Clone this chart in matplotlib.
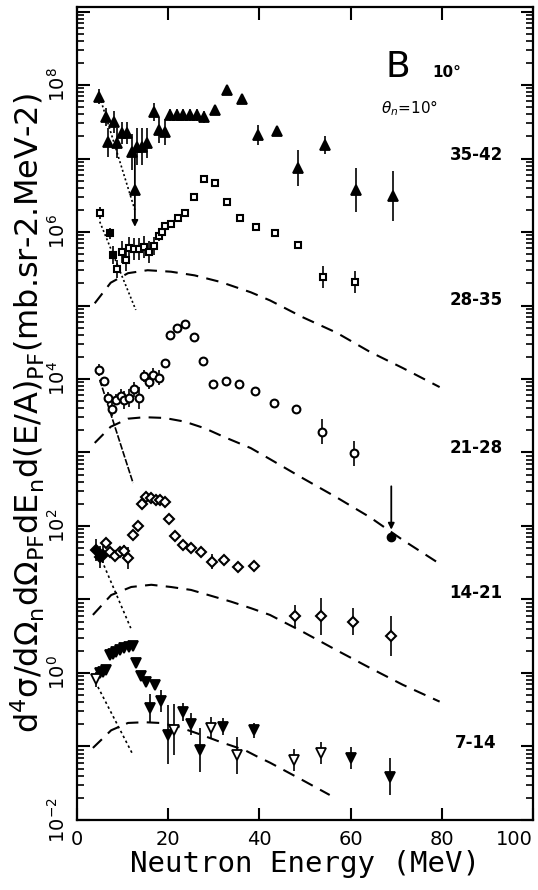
import numpy as np
import matplotlib
matplotlib.use("Agg")
import matplotlib.pyplot as plt
from matplotlib.ticker import FixedLocator, FuncFormatter, LogLocator, NullFormatter

plt.rcParams['font.family'] = ['DejaVu Sans']
plt.rcParams['mathtext.fontset'] = 'dejavusans'

# ---------------- data (energies in MeV, values as log10 of cross section) ----------------
# 35-42 bin (filled up-triangles)
e_3542 = [4.9, 6.35, 6.8, 8.1, 8.8, 9.85, 10.9, 12.0, 12.7, 13.1, 14.2, 15.3, 16.9, 18.0, 19.3,
          20.4, 21.9, 23.2, 24.7, 26.3, 27.8, 30.2, 32.8, 36.1, 39.6, 43.8, 48.4, 54.3, 61.1, 69.2]
v_3542 = [7.84, 7.565, 7.22, 7.50, 7.21, 7.35, 7.35, 7.09, 6.57, 7.16, 7.16, 7.21, 7.63, 7.39, 7.36,
          7.59, 7.59, 7.59, 7.59, 7.59, 7.565, 7.66, 7.93, 7.81, 7.32, 7.37, 6.87, 7.18, 6.57, 6.49]
s_3542 = [0.10, 0.12, 0.20, 0.15, 0.20, 0.15, 0.15, 0.25, 0.0, 0.25, 0.25, 0.20, 0.12, 0.18, 0.18,
          0.08, 0.08, 0.08, 0.08, 0.08, 0.08, 0.0, 0.0, 0.0, 0.14, 0.0, 0.25, 0.12, 0.30, 0.34]

# 28-35 bin (open squares)
e_2835 = [4.97, 7.16, 7.88, 8.82, 9.92, 10.8, 11.5, 12.6, 13.7, 14.8, 15.8, 17.0, 17.9, 18.6, 19.3,
          20.6, 22.1, 23.7, 25.6, 27.8, 30.2, 32.8, 35.8, 39.3, 43.5, 48.5, 53.9, 60.9]
v_2835 = [6.255, 5.98, 5.69, 5.50, 5.73, 5.62, 5.78, 5.77, 5.77, 5.80, 5.73, 5.81, 5.94, 6.00, 6.08,
          6.11, 6.19, 6.26, 6.48, 6.72, 6.67, 6.41, 6.195, 6.07, 5.98, 5.82, 5.39, 5.32]
s_2835 = [0.08, 0.08, 0.12, 0.12, 0.15, 0.15, 0.15, 0.15, 0.15, 0.15, 0.15, 0.12, 0.06, 0.05, 0.05,
          0.0, 0.0, 0.0, 0.0, 0.0, 0.0, 0.0, 0.0, 0.0, 0.0, 0.0, 0.15, 0.15]

# 21-28 bin (open circles)
e_2128 = [4.75, 5.85, 6.79, 7.66, 8.47, 9.57, 10.4, 11.5, 12.6, 13.6, 14.6, 15.7, 16.6, 17.9, 19.2,
          20.5, 21.9, 23.7, 25.6, 27.6, 29.9, 32.6, 35.6, 39.1, 43.1, 48.1, 53.7, 60.7]
v_2128 = [4.12, 3.97, 3.74, 3.59, 3.72, 3.77, 3.71, 3.74, 3.86, 3.74, 4.04, 3.96, 4.05, 4.02, 4.22,
          4.60, 4.69, 4.75, 4.57, 4.25, 3.93, 3.97, 3.93, 3.84, 3.67, 3.59, 3.28, 2.99]
s_2128 = [0.08, 0.05, 0.08, 0.10, 0.08, 0.10, 0.12, 0.12, 0.10, 0.15, 0.08, 0.10, 0.10, 0.10, 0.0,
          0.0, 0.0, 0.0, 0.0, 0.0, 0.0, 0.0, 0.0, 0.0, 0.0, 0.0, 0.17, 0.17]
e_2128_lim = [68.9]
v_2128_lim = [1.85]

# 14-21 bin (open diamonds, first three filled)
e_1421 = [4.23, 4.97, 5.69, 6.42, 7.29, 8.26, 9.35, 10.3, 11.2, 12.3, 13.4, 14.2, 15.2, 16.3, 17.4,
          18.3, 19.2, 20.1, 21.5, 23.2, 25.0, 27.1, 29.6, 32.2, 35.4, 38.9, 47.7, 53.6, 60.5, 68.9]
v_1421 = [1.67, 1.58, 1.61, 1.77, 1.65, 1.59, 1.65, 1.66, 1.56, 1.88, 2.00, 2.295, 2.39, 2.38, 2.36,
          2.35, 2.33, 2.09, 1.86, 1.74, 1.70, 1.64, 1.515, 1.54, 1.44, 1.46, 0.78, 0.77, 0.70, 0.50]
s_1421 = [0.15, 0.15, 0.12, 0.05, 0.05, 0.05, 0.05, 0.08, 0.15, 0.0, 0.0, 0.0, 0.0, 0.0, 0.0,
          0.0, 0.0, 0.0, 0.0, 0.0, 0.0, 0.0, 0.10, 0.0, 0.0, 0.0, 0.15, 0.25, 0.18, 0.27]
f_1421 = [1, 1, 1, 0, 0, 0, 0, 0, 0, 0, 0, 0, 0, 0, 0,
          0, 0, 0, 0, 0, 0, 0, 0, 0, 0, 0, 0, 0, 0, 0]

# 7-14 bin (down-triangles, mostly filled)
e_0714 = [4.27, 4.97, 5.69, 6.42, 7.16, 7.88, 8.6, 9.35, 10.4, 11.5, 12.3, 12.9, 14.1, 15.2, 16.1,
          17.2, 18.5, 19.9, 21.3, 23.2, 25.0, 27.0, 29.3, 32.0, 35.1, 38.8, 47.5, 53.4, 60.1, 68.7]
v_0714 = [-0.085, -0.004, 0.018, 0.04, 0.245, 0.26, 0.29, 0.31, 0.34, 0.36, 0.37, 0.13, -0.04, -0.12, -0.48,
          -0.16, -0.38, -0.84, -0.77, -0.53, -0.69, -1.05, -0.75, -0.73, -1.12, -0.78, -1.18, -1.09, -1.16, -1.41]
s_0714 = [0.10, 0.05, 0.03, 0.03, 0.02, 0.02, 0.0, 0.0, 0.0, 0.0, 0.0, 0.0, 0.0, 0.0, 0.20,
          0.0, 0.15, 0.40, 0.35, 0.12, 0.15, 0.30, 0.15, 0.12, 0.25, 0.10, 0.15, 0.15, 0.15, 0.25]
f_0714 = [0, 1, 1, 1, 1, 1, 1, 1, 1, 1, 1, 1, 1, 1, 1,
          1, 1, 1, 0, 1, 1, 1, 0, 1, 0, 1, 0, 0, 1, 1]

# upper-limit arrows (energy, start log10, tip log10)
ul_e = [12.7, 68.9]
ul_from = [7.14, 2.54]
ul_to = [6.07, 1.95]

# dashed (model) curves, one per bin
c_2835_e = [3.9, 7.4, 11.2, 15.5, 20.6, 25.8, 31.5, 38.1, 42.3, 49.5, 56.9, 64.2, 71.4, 79.5]
c_2835_v = [5.03, 5.31, 5.44, 5.48, 5.46, 5.41, 5.32, 5.18, 5.07, 4.84, 4.63, 4.37, 4.15, 3.89]
c_2128_e = [3.9, 7.4, 11.2, 14.8, 19.2, 23.6, 28.0, 32.3, 38.1, 42.3, 49.5, 56.9, 64.2, 71.4, 79.9]
c_2128_v = [3.13, 3.35, 3.46, 3.48, 3.47, 3.42, 3.33, 3.21, 3.06, 2.91, 2.65, 2.39, 2.12, 1.81, 1.47]
c_1421_e = [3.5, 7.5, 11.9, 16.3, 20.6, 25.0, 29.4, 33.8, 38.2, 42.3, 49.5, 56.9, 64.2, 71.4, 79.5]
c_1421_v = [0.79, 1.06, 1.17, 1.20, 1.17, 1.13, 1.05, 0.97, 0.88, 0.79, 0.56, 0.31, 0.07, -0.16, -0.39]
c_0714_e = [3.5, 7.5, 11.2, 14.8, 18.1, 22.1, 27.2, 31.5, 36.8, 39.6, 42.3, 49.5, 55.4]
c_0714_v = [-1.02, -0.78, -0.68, -0.67, -0.68, -0.73, -0.84, -0.94, -1.05, -1.14, -1.22, -1.46, -1.66]

# dotted low-energy component lines (two end points each)
d_3542_e, d_3542_v = [5.0, 12.7], [7.84, 6.30]
d_2835_e, d_2835_v = [5.0, 12.9], [6.14, 4.94]
d_2128_e, d_2128_v = [5.0, 12.3], [3.99, 2.585]
d_1421_e, d_1421_v = [4.5, 11.8], [1.67, 0.61]
d_0714_e, d_0714_v = [4.6, 12.3], [-0.19, -1.116]

x_ticks = [0, 20, 40, 60, 80, 100]
bin_labels = ["35-42", "28-35", "21-28", "14-21", "7-14"]

# ---------------- drawing ----------------
fig = plt.figure(figsize=(5.38, 8.90), dpi=100)
ax = fig.add_axes([0.143, 0.0787, 0.848, 0.9133])
ax.set_yscale('log')
ax.set_xlim(0, 100)
ax.set_ylim(1e-2, 10 ** 9.06)

def p(a):
    return np.power(10.0, np.asarray(a, dtype=float))

def plot_series(e, v, s, marker, ms, filled, mew=1.3):
    e = np.asarray(e, float)
    v = np.asarray(v, float)
    s = np.asarray(s, float)
    y = p(v)
    lo = y - p(v - s)
    hi = p(v + s) - y
    m = s > 0
    ax.errorbar(e[m], y[m], yerr=[lo[m], hi[m]], fmt='none', ecolor='k', elinewidth=1.2, capsize=0, zorder=3)
    filled = np.asarray(filled, bool)
    if filled.any():
        ax.plot(e[filled], y[filled], linestyle='none', marker=marker, ms=ms, mfc='k', mec='k', mew=mew, zorder=4)
    if (~filled).any():
        ax.plot(e[~filled], y[~filled], linestyle='none', marker=marker, ms=ms, mfc='white', mec='k', mew=mew, zorder=4)

plot_series(e_3542, v_3542, s_3542, '^', 6.5, [1] * len(e_3542))
plot_series(e_2835, v_2835, s_2835, 's', 4.6, [1 if i in (1, 2) else 0 for i in range(len(e_2835))], mew=1.5)
plot_series(e_2128, v_2128, s_2128, 'o', 5.6, [0] * len(e_2128), mew=1.5)
ax.plot(e_2128_lim, p(v_2128_lim), linestyle='none', marker='o', ms=6, mfc='k', mec='k', zorder=4)
plot_series(e_1421, v_1421, s_1421, 'D', 4.6, f_1421, mew=1.5)
plot_series(e_0714, v_0714, s_0714, 'v', 6.5, f_0714)

for e, a, b in zip(ul_e, ul_from, ul_to):
    ax.annotate('', xy=(e, 10 ** b), xytext=(e, 10 ** a),
                arrowprops=dict(arrowstyle='-|>', lw=1.3, color='k', mutation_scale=9,
                                shrinkA=0, shrinkB=0), zorder=3)

dash = (0, (6, 4))
for ce, cv in [(c_2835_e, c_2835_v), (c_2128_e, c_2128_v), (c_1421_e, c_1421_v), (c_0714_e, c_0714_v)]:
    ax.plot(ce, p(cv), color='k', lw=1.5, linestyle=dash, zorder=2)

for de, dv, ls in [(d_3542_e, d_3542_v, (0, (1.2, 1.5))), (d_2835_e, d_2835_v, (0, (1.2, 1.5))),
                   (d_2128_e, d_2128_v, (0, (4, 1))), (d_1421_e, d_1421_v, (0, (1.5, 1.8))),
                   (d_0714_e, d_0714_v, (0, (1.5, 1.8)))]:
    ax.plot(de, p(dv), color='k', lw=1.2, linestyle=ls, zorder=2)

# axes styling
for sp in ax.spines.values():
    sp.set_linewidth(1.6)
ax.xaxis.set_major_locator(FixedLocator(x_ticks))
ax.set_xticklabels([str(t) for t in x_ticks], fontsize=14)
xl = ax.get_xticklabels()
xl[-1].set_ha('right')
xl[-1].set_x(101.5)
ax.yaxis.set_major_locator(LogLocator(base=10, numticks=20))
ax.yaxis.set_minor_locator(LogLocator(base=10, subs=np.arange(2, 10), numticks=20))
ax.yaxis.set_minor_formatter(NullFormatter())

def yfmt(val, pos):
    k = int(round(np.log10(val)))
    if k % 2 == 0 and -2 <= k <= 8:
        return r'$10^{%d}$' % k
    return ''
ax.yaxis.set_major_formatter(FuncFormatter(yfmt))
ax.tick_params(axis='both', which='major', direction='in', length=9, width=1.5, top=True, right=True)
ax.tick_params(axis='y', which='minor', direction='in', length=5, width=1.2, right=True)
ax.tick_params(axis='x', which='major', pad=7)
ax.tick_params(axis='y', which='major', pad=6)
for lab in ax.get_yticklabels():
    lab.set_rotation(90)
    lab.set_va('center')
    lab.set_fontsize(14)

ax.set_xlabel('Neutron Energy (MeV)', fontsize=21, family='DejaVu Sans Mono', labelpad=1)
ax.set_ylabel(r'$\mathregular{d^4\sigma/d\Omega_n d\Omega_{PF} dE_n d(E/A)_{PF}}$(mb.sr-2.MeV-2)',
              fontsize=23, labelpad=0)

ax.text(0.704, 0.926, 'B', transform=ax.transAxes, fontsize=26, ha='center', va='center')
ax.text(0.811, 0.920, '10°', transform=ax.transAxes, fontsize=11, fontweight='bold', ha='center', va='center')
ax.text(0.730, 0.876, r'$\theta_n$=10°', transform=ax.transAxes, fontsize=11, ha='center', va='center')
for lbl, yy in zip(bin_labels, [0.818, 0.640, 0.458, 0.279, 0.095]):
    ax.text(0.875, yy, lbl, transform=ax.transAxes, fontsize=12, fontweight='bold', ha='center', va='center')

fig.savefig('out.png', dpi=100)
